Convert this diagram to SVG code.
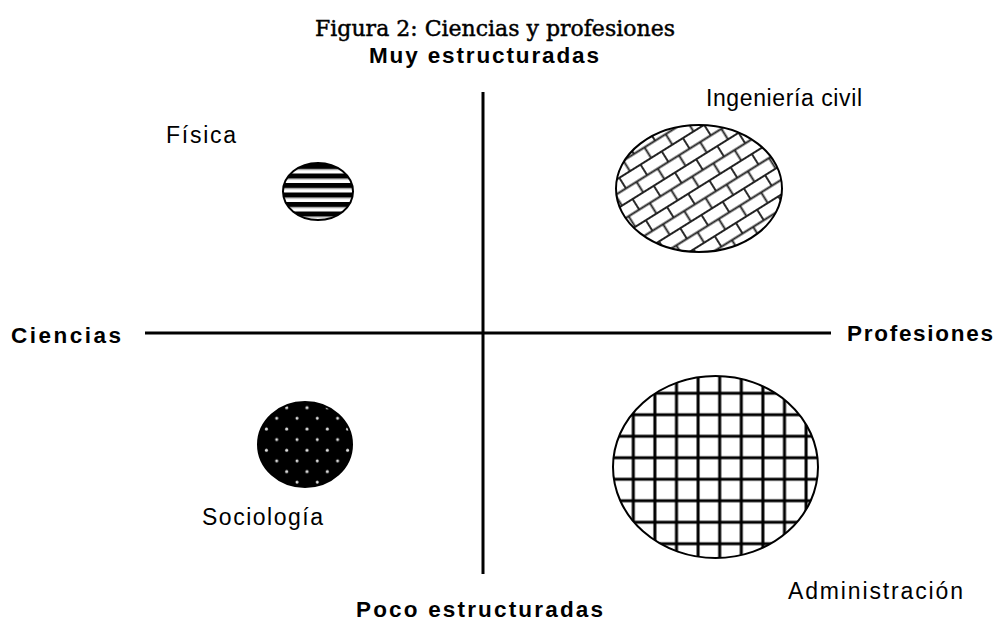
<svg xmlns="http://www.w3.org/2000/svg" width="999" height="624" viewBox="0 0 999 624">
<style>
.title{font-family:"DejaVu Serif","Liberation Serif",serif;font-size:22px;fill:#000;stroke:#000;stroke-width:0.45}
.bold{font-family:"Liberation Sans",Arial,sans-serif;font-size:22.5px;font-weight:bold;fill:#000}
.lbl{font-family:"Liberation Sans",Arial,sans-serif;font-size:23px;fill:#000}
.axis{stroke:#000;stroke-width:3;fill:none}
.outline{stroke:#000;stroke-width:2}
</style>
<defs>
<pattern id="stripes" patternUnits="userSpaceOnUse" x="0" y="164" width="10" height="9.5">
<rect width="10" height="5" fill="#000"/>
<rect y="5" width="10" height="1" fill="#888"/>
</pattern>
<pattern id="brick" patternUnits="userSpaceOnUse" width="25" height="25" patternTransform="rotate(-32)">
<path d="M0 4H25 M0 16.5H25 M6 4V16.5 M18.5 16.5V25 M18.5 0V4" stroke="#222" stroke-width="1.9" fill="none"/>
</pattern>
<pattern id="dots" patternUnits="userSpaceOnUse" x="271.7" y="402.7" width="20.3" height="21.3">
<rect width="20.3" height="21.3" fill="#000"/>
<circle cx="15" cy="5" r="1.5" fill="#ddd"/>
<circle cx="5" cy="15.6" r="1.5" fill="#ddd"/>
</pattern>
<pattern id="grid" patternUnits="userSpaceOnUse" x="622.5" y="382.5" width="21.6" height="21.5">
<path d="M10.8 0V21.5 M0 10.75H21.6" stroke="#000" stroke-width="3" fill="none"/>
</pattern>
</defs>
<rect width="999" height="624" fill="#fff"/>
<text class="title" x="495" y="36" text-anchor="middle">Figura 2: Ciencias y profesiones</text>
<g id="axes">
<line class="axis" x1="145" y1="333" x2="831" y2="333"/>
<line class="axis" x1="483" y1="92" x2="483" y2="574"/>
</g>
<g id="axis-labels">
<text class="bold" x="369" y="63" textLength="230" lengthAdjust="spacing">Muy estructuradas</text>
<text class="bold" x="356" y="617" textLength="247" lengthAdjust="spacing">Poco estructuradas</text>
<text class="bold" x="11" y="343" textLength="110" lengthAdjust="spacing">Ciencias</text>
<text class="bold" x="847" y="341" textLength="146" lengthAdjust="spacing">Profesiones</text>
</g>
<g id="fisica">
<ellipse class="outline" cx="318" cy="191.5" rx="35" ry="28.5" fill="url(#stripes)"/>
<text class="lbl" x="166" y="143" textLength="70" lengthAdjust="spacing">Física</text>
</g>
<g id="ingenieria">
<ellipse class="outline" cx="699" cy="188.5" rx="83" ry="63.5" fill="url(#brick)"/>
<text class="lbl" x="706" y="106" textLength="156" lengthAdjust="spacing">Ingeniería civil</text>
</g>
<g id="sociologia">
<ellipse class="outline" cx="305" cy="444.5" rx="47" ry="42.5" fill="url(#dots)"/>
<text class="lbl" x="202" y="525" textLength="121" lengthAdjust="spacing">Sociología</text>
</g>
<g id="administracion">
<ellipse class="outline" cx="715.5" cy="467" rx="102.5" ry="91" fill="url(#grid)"/>
<text class="lbl" x="788" y="599" textLength="175" lengthAdjust="spacing">Administración</text>
</g>
</svg>
